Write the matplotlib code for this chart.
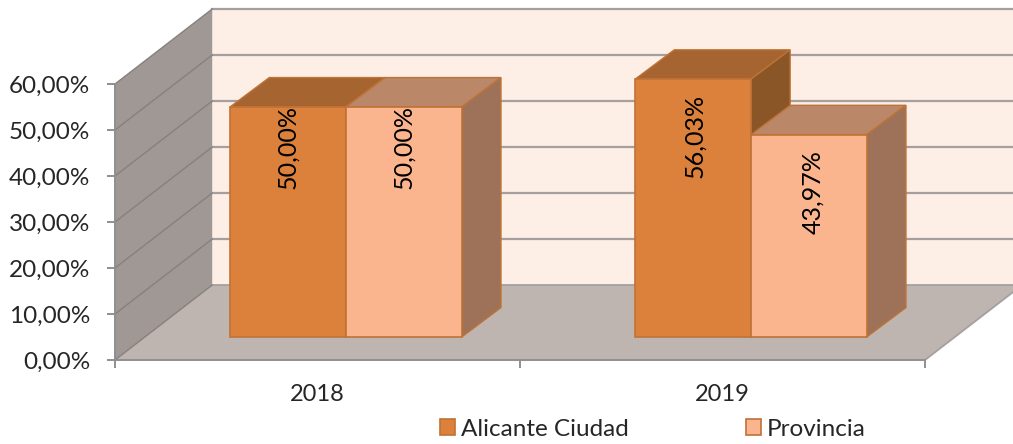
import matplotlib
matplotlib.use("Agg")
import matplotlib.pyplot as plt
from matplotlib.patches import Polygon

years = ['2018', '2019']
series = ['Alicante Ciudad', 'Provincia']
ciudad = [50.00, 56.03]
provincia = [50.00, 43.97]
y_ticks = [0, 10, 20, 30, 40, 50, 60]
y_labels = ['0,00%', '10,00%', '20,00%', '30,00%', '40,00%', '50,00%', '60,00%']
bar_labels = [['50,00%', '56,03%'], ['50,00%', '43,97%']]

W, H = 1013, 444
plt.rcParams['font.family'] = ['Lato', 'DejaVu Sans']

# fake 3d: everything is in data units, depth is a shift in x and y
wall_dx, wall_dy = 0.24, 16.3
bar_dx, bar_dy = 0.097, 6.4
base = 5.0
width = 0.286
centers = [0.57, 1.57]
label_drop = [8.7, 12.4]
label_shift = [[0, 0.005], [0, 0.01]]

faces = [('#DB813C', '#A66530', '#8A5527'), ('#FBB58E', '#BA8769', '#9E7259')]
edge = '#BF7235'
grid_back = '#A5A09E'
grid_side = '#85817E'
axis_col = '#8F8F8F'
text_col = '#262626'


def poly(ax, pts, color, ec='none', lw=0, z=1):
    ax.add_patch(Polygon(pts, closed=True, facecolor=color, edgecolor=ec, linewidth=lw, zorder=z, clip_on=False))


fig = plt.figure(figsize=(W / 100, H / 100), dpi=100)
ax = fig.add_axes([115 / W, (H - 360) / H, 810 / W, 276 / H])
ax.set_xlim(0, 2)
ax.set_ylim(0, 60)
ax.patch.set_visible(False)

# walls and floor
poly(ax, [(wall_dx, wall_dy), (2.5, wall_dy), (2.5, 60 + wall_dy), (wall_dx, 60 + wall_dy)], '#FDEEE6', z=1)
poly(ax, [(0, 0), (wall_dx, wall_dy), (wall_dx, 60 + wall_dy), (0, 60)], '#A09894', z=1)
poly(ax, [(0, 0), (2, 0), (2 + wall_dx, wall_dy), (wall_dx, wall_dy)], '#BEB4B0', z=1.5)

for v in y_ticks:
    if v > 0:
        ax.plot([wall_dx, 2.5], [v + wall_dy, v + wall_dy], color=grid_back, lw=1.6, zorder=1.2, clip_on=False)
        ax.plot([0, wall_dx], [v, v + wall_dy], color=grid_side, lw=1.0, zorder=1.2, clip_on=False)
ax.plot([wall_dx, 2.5], [wall_dy, wall_dy], color=grid_back, lw=1.3, zorder=1.6, clip_on=False)
ax.plot([0, wall_dx], [0, wall_dy], color=grid_side, lw=1.0, zorder=1.6, clip_on=False)
ax.plot([2, 2 + wall_dx], [0, wall_dy], color=grid_back, lw=1.3, zorder=1.6, clip_on=False)

handles = []
for i, vals in enumerate([ciudad, provincia]):
    offset = (i - 0.5) * width
    z = 2 + i
    for c, v in zip(centers, vals):
        x0 = c + offset - width / 2
        x1 = x0 + width
        top = base + v
        poly(ax, [(x0, top), (x1, top), (x1 + bar_dx, top + bar_dy), (x0 + bar_dx, top + bar_dy)],
             faces[i][1], ec=edge, lw=1.0, z=z)
        poly(ax, [(x1, base), (x1 + bar_dx, base + bar_dy), (x1 + bar_dx, top + bar_dy), (x1, top)],
             faces[i][2], ec=edge, lw=1.0, z=z)
    b = ax.bar([c + offset for c in centers], vals, width=width, bottom=base, color=faces[i][0],
               edgecolor=edge, linewidth=1.2, zorder=z + 0.1, clip_on=False, label=series[i])
    handles.append(b)
    for k, c in enumerate(centers):
        ax.text(c + offset + label_shift[i][k], base + vals[k] - label_drop[k], bar_labels[i][k],
                rotation=90, ha='center', va='center', fontsize=18, color='black', zorder=6)

# axes
for s in ['top', 'right']:
    ax.spines[s].set_visible(False)
for s in ['left', 'bottom']:
    ax.spines[s].set_color(axis_col)
    ax.spines[s].set_linewidth(1.4)
    ax.spines[s].set_zorder(1.7)
ax.set_yticks(y_ticks)
ax.set_yticklabels(y_labels, fontsize=17.5, color=text_col)
ax.tick_params(axis='y', length=6, width=1.4, color=axis_col, pad=12)
ax.set_xticks([0, 1, 2])
ax.set_xticklabels([])
ax.set_xticks([0.5, 1.5], labels=years, minor=True, fontsize=17, color=text_col)
ax.tick_params(axis='x', which='major', length=6, width=1.4, color=axis_col)
ax.tick_params(axis='x', which='minor', length=0, pad=17)

leg = fig.legend(handles, series, ncol=2, loc='center', bbox_to_anchor=(653 / W, (H - 429) / H),
                 frameon=False, fontsize=17.5, handlelength=0.62, handleheight=0.62,
                 handletextpad=0.25, columnspacing=4.8, borderpad=0, borderaxespad=0, labelcolor=text_col)

fig.savefig('out.png', dpi=100)
